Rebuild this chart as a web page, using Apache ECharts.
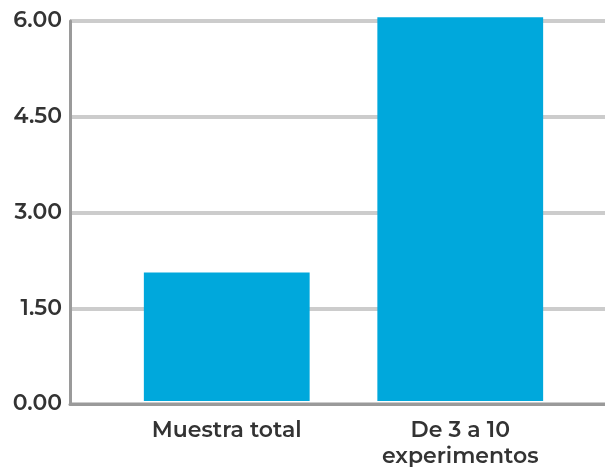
<!DOCTYPE html>
<html><head><meta charset="utf-8">
<script src="https://cdn.jsdelivr.net/npm/echarts@6/dist/echarts.min.js"></script>
<style>html,body{margin:0;padding:0;background:#fff}#c{width:605px;height:470px}</style>
</head><body><div id="c"></div>
<script>
const categories = ['Muestra total', 'De 3 a 10\nexperimentos'];
const values = [2.03, 6.06];
const yTicks = { min: 0, max: 6, interval: 1.5 };

const chart = echarts.init(document.getElementById('c'));
const font = 'Montserrat, "Noto Sans", Lato, sans-serif';
chart.setOption({
  animation: false,
  grid: [
    { left: 70, right: 0, top: 21, bottom: 66 },
    { left: 110, right: 28, top: 21, bottom: 66 }
  ],
  xAxis: [
    { gridIndex: 0, type: 'category', data: categories, axisLabel: { show: false }, axisTick: { show: false },
      axisLine: { lineStyle: { color: '#9a9a9a', width: 3 } }, z: 5 },
    { gridIndex: 1, type: 'category', data: categories, axisTick: { show: false }, axisLine: { show: false },
      axisLabel: { color: '#333', fontSize: 22, fontWeight: 600, fontFamily: font, lineHeight: 26, margin: 17 } }
  ],
  yAxis: [
    { gridIndex: 0, type: 'value', min: yTicks.min, max: yTicks.max, interval: yTicks.interval,
      axisLine: { show: true, lineStyle: { color: '#9a9a9a', width: 3 } }, axisTick: { show: false },
      axisLabel: { color: '#333', fontSize: 22, fontWeight: 600, fontFamily: font, margin: 8, formatter: v => v.toFixed(2) },
      splitLine: { lineStyle: { color: '#cccccc', width: 4 } } },
    { gridIndex: 1, type: 'value', min: yTicks.min, max: yTicks.max, interval: yTicks.interval,
      axisLine: { show: false }, axisTick: { show: false }, axisLabel: { show: false }, splitLine: { show: false } }
  ],
  series: [{
    type: 'bar', xAxisIndex: 1, yAxisIndex: 1, data: values, barWidth: '71%', clip: false,
    itemStyle: { color: '#00a8dc' }
  }]
});
</script></body></html>
